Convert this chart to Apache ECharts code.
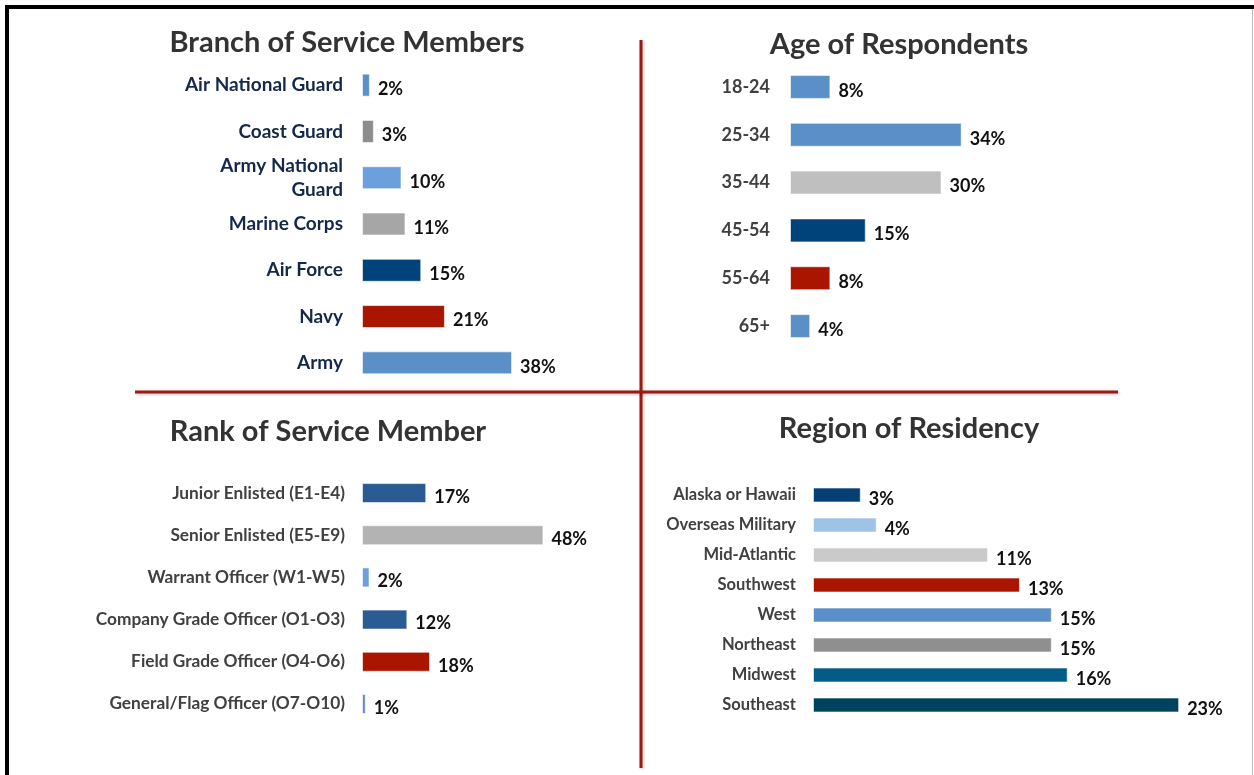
<!DOCTYPE html>
<html>
<head>
<meta charset="utf-8">
<title>Survey respondents</title>
<script src="https://cdn.jsdelivr.net/npm/echarts@6/dist/echarts.min.js"></script>
<style>
  html, body { margin: 0; padding: 0; background: #fff; }
  #chart { width: 1254px; height: 775px; }
</style>
</head>
<body>
<div id="chart"></div>
<script>
// --- data (percent of respondents) ---
const branchNames = ['Air National Guard', 'Coast Guard', 'Army National\nGuard', 'Marine Corps', 'Air Force', 'Navy', 'Army'];
const branchValues = [2, 3, 10, 11, 15, 21, 38];

const ageNames = ['18-24', '25-34', '35-44', '45-54', '55-64', '65+'];
const ageValues = [8, 34, 30, 15, 8, 4];

const rankNames = ['Junior Enlisted (E1-E4)', 'Senior Enlisted (E5-E9)', 'Warrant Officer (W1-W5)',
  'Company Grade Officer (O1-O3)', 'Field Grade Officer (O4-O6)', 'General/Flag Officer (O7-O10)'];
const rankValues = [17, 48, 2, 12, 18, 1];

const regionNames = ['Alaska or Hawaii', 'Overseas Military', 'Mid-Atlantic', 'Southwest', 'West', 'Northeast', 'Midwest', 'Southeast'];
const regionValues = [3, 4, 11, 13, 15, 15, 16, 23];

// bar colours, one per category
const branchColors = ['#5B8FC7', '#8C8C8C', '#6CA0DC', '#A6A6A6', '#00427A', '#AA1500', '#5B8FC7'];
const ageColors = ['#5B8FC7', '#5B8FC7', '#BFBFBF', '#00427A', '#AA1500', '#5B8FC7'];
const rankColors = ['#2B5B93', '#B3B3B3', '#6CA0DC', '#2B5B93', '#AA1500', '#5B8FC7'];
const regionColors = ['#053F74', '#9DC3E6', '#CACACA', '#AA1500', '#5B8FC7', '#8F8F8F', '#025C87', '#01425E'];

const FONT = 'Lato, "Open Sans", sans-serif';
const RED = '#9E1A10';

const chart = echarts.init(document.getElementById('chart'));

function panelTitle(text, x, y) {
  return {
    text: text, left: x, top: y, textAlign: 'center', padding: 0,
    textStyle: { fontFamily: FONT, fontSize: 29, fontWeight: 'bold', color: '#333333' }
  };
}

function catAxis(idx, names, labelColor, size, margin) {
  return {
    type: 'category', gridIndex: idx, data: names, inverse: true,
    axisLine: { show: false }, axisTick: { show: false },
    axisLabel: {
      fontFamily: FONT, fontSize: size, fontWeight: 'bold', color: labelColor,
      margin: margin, lineHeight: 24
    }
  };
}

function valAxis(idx, max) {
  return {
    type: 'value', gridIndex: idx, min: 0, max: max, show: false,
    splitLine: { show: false }
  };
}

function barSeries(idx, values, colors, barWidth) {
  return {
    type: 'bar', xAxisIndex: idx, yAxisIndex: idx, barWidth: barWidth,
    data: values.map((v, i) => ({ value: v, itemStyle: { color: colors[i] } })),
    itemStyle: { borderColor: 'rgba(255,255,255,0.6)', borderWidth: 1 },
    label: {
      show: true, position: 'right', distance: 8, offset: [0, 4],
      formatter: '{c}%',
      fontFamily: FONT, fontSize: 18, fontWeight: 'bold', color: '#111'
    },
    silent: true
  };
}

const option = {
  backgroundColor: '#fff',
  animation: false,
  title: [
    panelTitle('Branch of Service Members', 347, 28),
    panelTitle('Age of Respondents', 899, 30),
    panelTitle('Rank of Service Member', 328, 417),
    panelTitle('Region of Residency', 909, 414)
  ],
  grid: [
    { left: 362, top: 62, width: 158, height: 324 },
    { left: 790, top: 63, width: 202, height: 287 },
    { left: 362, top: 472, width: 189, height: 253 },
    { left: 813, top: 480, width: 398, height: 240 }
  ],
  xAxis: [valAxis(0, 40), valAxis(1, 40), valAxis(2, 50), valAxis(3, 25)],
  yAxis: [
    catAxis(0, branchNames, '#14284B', 19, 19),
    catAxis(1, ageNames, '#404040', 18, 20),
    catAxis(2, rankNames, '#404040', 17.3, 17),
    catAxis(3, regionNames, '#404040', 16.5, 17)
  ],
  series: [
    barSeries(0, branchValues, branchColors, 23),
    barSeries(1, ageValues, ageColors, 24),
    barSeries(2, rankValues, rankColors, 20),
    barSeries(3, regionValues, regionColors, 15)
  ],
  graphic: [
    // outer frame: heavy black on left and top, hairline on the right
    { type: 'rect', shape: { x: 5, y: 5, width: 4, height: 770 }, style: { fill: '#000' } },
    { type: 'rect', shape: { x: 5, y: 5, width: 1249, height: 4 }, style: { fill: '#000' } },
    { type: 'rect', shape: { x: 1252, y: 9, width: 1, height: 766 }, style: { fill: '#BBBBBB' } },
    // quadrant dividers
    {
      type: 'line', shape: { x1: 641, y1: 40, x2: 641, y2: 768 },
      style: { stroke: RED, lineWidth: 3, shadowBlur: 3, shadowColor: 'rgba(0,0,0,0.25)', shadowOffsetX: 1, shadowOffsetY: 1 }
    },
    {
      type: 'line', shape: { x1: 135, y1: 392, x2: 1118, y2: 392 },
      style: { stroke: RED, lineWidth: 3, shadowBlur: 3, shadowColor: 'rgba(0,0,0,0.25)', shadowOffsetX: 1, shadowOffsetY: 1 }
    }
  ]
};

chart.setOption(option);
</script>
</body>
</html>
